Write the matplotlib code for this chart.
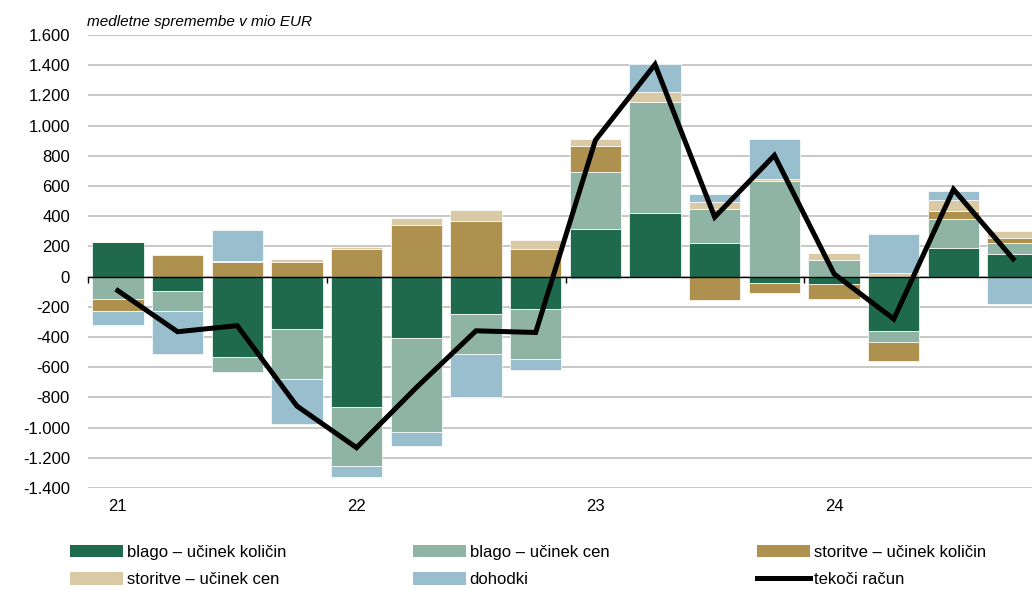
import numpy as np
import matplotlib
matplotlib.use("Agg")
import matplotlib.pyplot as plt
from matplotlib.patches import Patch
from matplotlib.lines import Line2D

plt.rcParams['font.family'] = ['Liberation Sans', 'DejaVu Sans']

# podatki (medletne spremembe, mio EUR), 2021Q1 - 2024Q4
blago_kol = [232, -93, -531, -345, -865, -404, -246, -212, 314, 423, 221, -40, -46, -358, 190, 148]
blago_cen = [-148, -132, -98, -332, -390, -625, -267, -335, 379, 730, 224, 631, 113, -78, 193, 73]
storitve_kol = [-77, 144, 95, 95, 184, 343, 365, 181, 172, 0, -153, -68, -100, -124, 49, 33]
storitve_cen = [0, -5, 10, 22, 11, 47, 73, 62, 49, 67, 46, 17, 42, 24, 73, 45]
dohodki = [-98, -282, 205, -299, -69, -93, -284, -71, -18, 185, 56, 262, 0, 259, 64, -181]
tekoci = [-93, -365, -325, -857, -1133, -735, -359, -370, 903, 1405, 394, 803, 18, -281, 578, 117]

leta = ['21', '22', '23', '24']
yticks = np.arange(-1400, 1601, 200)

series = [
    (blago_kol, '#1f6a4f', 'blago – učinek količin'),
    (blago_cen, '#8fb4a6', 'blago – učinek cen'),
    (storitve_kol, '#ae914e', 'storitve – učinek količin'),
    (storitve_cen, '#d9c9a5', 'storitve – učinek cen'),
    (dohodki, '#99bfce', 'dohodki'),
]

fig = plt.figure(figsize=(10.32, 5.90), dpi=100)
ax = fig.add_axes([88 / 1032, 102 / 590, 955 / 1032, 453 / 590])

x = np.arange(len(tekoci))
pos = np.zeros(len(x))
neg = np.zeros(len(x))
for vals, col, lab in series:
    v = np.array(vals, dtype=float)
    base = np.where(v >= 0, pos, neg)
    ax.bar(x, v, bottom=base, width=0.86, color=col, edgecolor='white', linewidth=0.5, zorder=2)
    pos = pos + np.clip(v, 0, None)
    neg = neg + np.clip(v, None, 0)

ax.plot(x, tekoci, color='black', linewidth=3.6, zorder=4, solid_joinstyle='miter')

ax.set_xlim(-0.5, 15.5)
ax.set_ylim(-1400, 1600)
ax.set_yticks(yticks)
ax.set_yticklabels([f"{v:,}".replace(',', '.') for v in yticks], fontsize=12)
ax.tick_params(axis='y', length=0, pad=13)
ax.yaxis.grid(True, color='#c4c4c4', linewidth=1.3, zorder=0)
ax.set_axisbelow(True)

for s in ['top', 'right', 'left']:
    ax.spines[s].set_visible(False)
ax.spines['bottom'].set_position(('data', 0))
ax.spines['bottom'].set_linewidth(1.0)
ax.spines['bottom'].set_zorder(3)
ax.set_xticks([-0.5, 3.5, 7.5, 11.5])
ax.set_xticklabels([])
ax.tick_params(axis='x', length=4, width=1, direction='out')

sec = ax.secondary_xaxis(0)
sec.set_xticks([0, 4, 8, 12])
sec.set_xticklabels(leta, fontsize=12)
sec.tick_params(length=0, pad=8)
sec.spines['bottom'].set_visible(False)

fig.text(87 / 1032, 1 - 22 / 590, 'medletne spremembe v mio EUR', fontsize=11,
         style='italic', va='center', ha='left')

handles = [Patch(facecolor=c, edgecolor='none') for _, c, _ in series]
handles.append(Line2D([0], [0], color='black', linewidth=3.6))
labels = [lab for _, _, lab in series] + ['tekoči račun']
cols = [[0, 3], [1, 4], [2, 5]]
xs = [70, 413, 757]
for idx, xp in zip(cols, xs):
    fig.legend([handles[i] for i in idx], [labels[i] for i in idx],
               loc='center left', bbox_to_anchor=(xp / 1032, 1 - 566 / 590),
               frameon=False, fontsize=12, handlelength=3.2, handleheight=0.8,
               handletextpad=0.2, labelspacing=0.75, borderpad=0, borderaxespad=0)

fig.savefig('out.png', dpi=100)
